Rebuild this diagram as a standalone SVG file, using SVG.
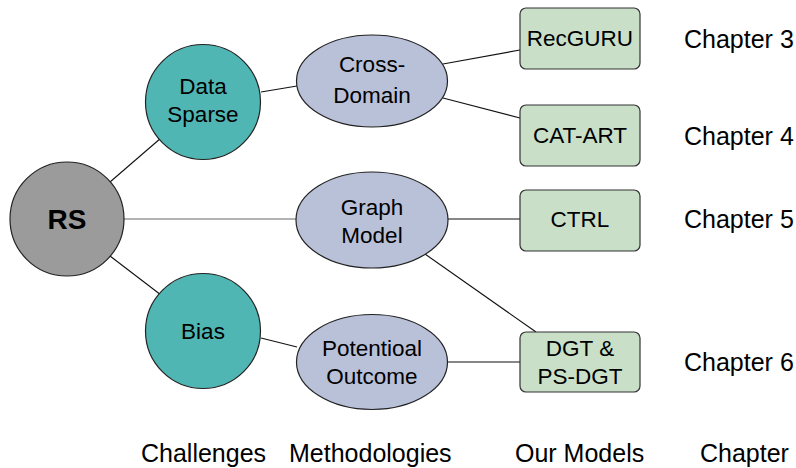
<svg xmlns="http://www.w3.org/2000/svg" width="796" height="468" viewBox="0 0 796 468">
<style>
  text { font-family: "Liberation Sans", Arial, Helvetica, sans-serif; fill: #000; }
  .n { font-size: 22.5px; text-anchor: middle; }
  .lab { font-size: 25px; }
  .rs { font-size: 28px; font-weight: bold; text-anchor: middle; }
  .gray { fill: #9b9b9b; stroke: #222; stroke-width: 1.2; }
  .teal { fill: #50b6b4; stroke: #222; stroke-width: 1.2; }
  .meth { fill: #b9c1d9; stroke: #222; stroke-width: 1.2; }
  .model { fill: #c9dfc8; stroke: #333; stroke-width: 1.2; }
  .e { stroke: #111; stroke-width: 1.1; fill: none; }
  .eg { stroke: #9a9a9a; stroke-width: 1.5; fill: none; }
</style>
<rect width="796" height="468" fill="#fff"/>
<g id="connectors">
  <line class="e" x1="110" y1="182" x2="161" y2="138"/>
  <line class="eg" x1="124" y1="219" x2="296" y2="219"/>
  <line class="e" x1="110" y1="256" x2="161" y2="295"/>
  <line class="e" x1="261" y1="92" x2="297" y2="86"/>
  <line class="e" x1="443" y1="64" x2="520" y2="50"/>
  <line class="e" x1="443" y1="98" x2="520" y2="118"/>
  <line class="e" x1="448" y1="219" x2="520" y2="219"/>
  <line class="e" x1="425" y1="254" x2="536" y2="332"/>
  <line class="e" x1="261" y1="338" x2="297" y2="347"/>
  <line class="e" x1="448" y1="362" x2="520" y2="362"/>
</g>
<g id="RS">
  <circle class="gray" cx="67" cy="219" r="57"/>
  <text class="rs" x="67" y="229">RS</text>
</g>
<g id="DataSparse">
  <circle class="teal" cx="203" cy="102" r="57.5"/>
  <text class="n" x="203" y="94">Data</text>
  <text class="n" x="203" y="122">Sparse</text>
</g>
<g id="Bias">
  <circle class="teal" cx="203" cy="331" r="57.5"/>
  <text class="n" x="203" y="339">Bias</text>
</g>
<g id="CrossDomain">
  <ellipse class="meth" cx="372" cy="81" rx="75.5" ry="46"/>
  <text class="n" x="372" y="72">Cross-</text>
  <text class="n" x="372" y="103">Domain</text>
</g>
<g id="GraphModel">
  <ellipse class="meth" cx="372" cy="220" rx="76" ry="48"/>
  <text class="n" x="372" y="215">Graph</text>
  <text class="n" x="372" y="243">Model</text>
</g>
<g id="PotentioalOutcome">
  <ellipse class="meth" cx="372" cy="362" rx="75.5" ry="47.5"/>
  <text class="n" x="372" y="356">Potentioal</text>
  <text class="n" x="372" y="384">Outcome</text>
</g>
<g id="RecGURU">
  <rect class="model" x="520" y="8" width="120" height="61" rx="6"/>
  <text class="n" x="580" y="46">RecGURU</text>
</g>
<g id="CATART">
  <rect class="model" x="520" y="105" width="120" height="61" rx="6"/>
  <text class="n" x="580" y="143">CAT-ART</text>
</g>
<g id="CTRL">
  <rect class="model" x="520" y="190" width="120" height="61" rx="6"/>
  <text class="n" x="580" y="227">CTRL</text>
</g>
<g id="DGT">
  <rect class="model" x="520" y="332" width="120" height="60" rx="6"/>
  <text class="n" x="580" y="356">DGT &amp;</text>
  <text class="n" x="580" y="384">PS-DGT</text>
</g>
<g id="chapters">
  <text class="lab" x="684" y="48">Chapter 3</text>
  <text class="lab" x="684" y="145">Chapter 4</text>
  <text class="lab" x="684" y="228">Chapter 5</text>
  <text class="lab" x="684" y="371">Chapter 6</text>
</g>
<g id="columns">
  <text class="lab" x="141" y="462">Challenges</text>
  <text class="lab" x="289" y="462">Methodologies</text>
  <text class="lab" x="515" y="462">Our Models</text>
  <text class="lab" x="700" y="462">Chapter</text>
</g>
</svg>
